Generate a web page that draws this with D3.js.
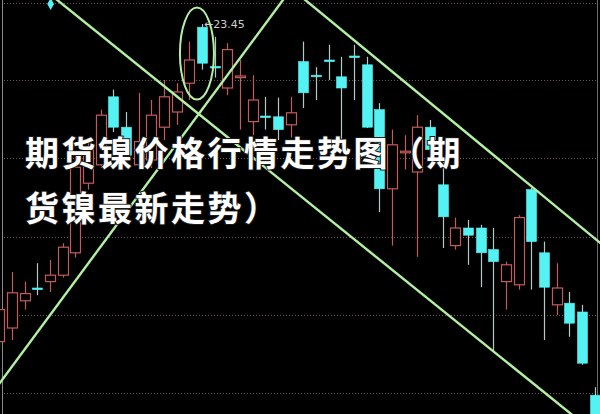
<!DOCTYPE html>
<html><head><meta charset="utf-8">
<script src="https://cdn.jsdelivr.net/npm/d3@7"></script>
<style>html,body{margin:0;padding:0;background:#000;}svg{display:block;}</style>
</head><body>
<script>
// candle data (index order), price values
const opens  = [19.48,19.65,19.99,20.15,20.23,20.31,20.59,21.46,21.69,22.54,22.16,21.69,21.75,22.16,22.35,22.71,23.41,22.92,22.65,22.78,22.23,22.30,22.29,22.19,22.98,22.81,23.00,22.79,23.05,22.94,22.38,21.39,21.84,21.60,22.16,21.44,20.68,20.90,20.90,20.63,20.23,20.19,21.38,20.59,19.94,19.96,19.85,18.81];
const highs  = [20.06,20.35,20.23,20.46,20.50,20.71,21.81,22.00,22.38,22.63,22.35,22.59,22.50,22.75,22.71,23.23,23.45,23.29,23.21,23.00,22.81,22.54,22.53,22.54,23.23,22.91,23.19,23.04,23.19,23.04,22.46,22.13,22.06,22.31,22.25,21.75,21.03,21.00,20.94,20.90,20.48,21.06,21.40,20.73,20.46,20.10,19.94,18.91];
const lows   = [19.38,19.50,19.88,20.06,20.10,20.28,20.53,21.38,21.65,22.10,21.69,21.63,21.65,22.00,22.19,22.50,22.88,22.78,22.56,22.13,22.06,22.13,22.00,22.03,22.40,22.50,22.75,21.94,22.50,22.15,21.10,20.68,21.63,20.54,21.75,20.65,20.63,20.44,20.16,19.35,19.88,20.13,20.13,19.50,19.81,19.54,19.19,18.45];
const closes = [19.88,20.09,20.08,20.13,20.31,20.66,21.66,21.88,22.31,22.16,21.81,21.98,22.31,22.54,22.60,23.00,22.96,22.90,23.13,22.80,22.50,22.28,22.13,22.34,22.59,22.79,22.98,22.65,23.03,22.16,21.39,21.94,21.86,22.16,21.88,21.04,20.90,20.81,20.59,20.48,20.44,21.03,20.73,20.16,20.15,19.71,19.21,18.50];
const gridLevels = [23.71, 22.75, 21.78, 20.79, 19.81, 18.84];
// trend lines: [index0, price0, index1, price1]
const trendLines = [[3, 23.95, 48, 18.21], [-1, 18.74, 23, 23.88], [23, 23.90, 48, 20.64]];
const highLabel = "23.45";
const titleLines = ["期货镍价格行情走势图（期", "货镍最新走势）"];

const W = 600, H = 414;
const svg = d3.select("body").append("svg").attr("width", W).attr("height", H)
  .style("background", "#000");

const x = d3.scaleLinear().domain([0, 47]).range([-0.67, 594.7]);
const y = d3.scaleLinear().domain([18.575, 23.75]).range([H, 0]);
const bw = 10;

// grid
svg.selectAll("line.grid").data(gridLevels).enter().append("line")
  .attr("x1", 4).attr("x2", 596)
  .attr("y1", d => Math.round(y(d)) + 0.5).attr("y2", d => Math.round(y(d)) + 0.5)
  .attr("stroke", "#6e5656").attr("stroke-width", 1).attr("stroke-dasharray", "1,2");

// borders
svg.append("line").attr("x1", 2.5).attr("x2", 2.5).attr("y1", 0).attr("y2", H).attr("stroke", "#8a8a8a").attr("stroke-width", 1);
svg.append("line").attr("x1", 597.5).attr("x2", 597.5).attr("y1", 0).attr("y2", H).attr("stroke", "#6a6a6a").attr("stroke-width", 1);

const RED = "#c25c5c", CYAN = "#54f2f2", DW = "#b4c8c8";
const data = opens.map((o, i) => ({i, o, h: highs[i], l: lows[i], c: closes[i]}));

const g = svg.append("g");
const cg = g.selectAll("g.c").data(data).enter().append("g");
cg.append("line")
  .attr("x1", d => Math.round(x(d.i)) + 0.5).attr("x2", d => Math.round(x(d.i)) + 0.5)
  .attr("y1", d => y(d.h)).attr("y2", d => y(d.l))
  .attr("stroke", d => d.c >= d.o ? RED : DW).attr("stroke-width", 1.2);
cg.append("rect")
  .attr("x", d => Math.round(x(d.i)) - bw / 2 + 0.5)
  .attr("width", bw)
  .attr("y", d => y(Math.max(d.o, d.c)))
  .attr("height", d => Math.max(1.5, Math.abs(y(d.o) - y(d.c))))
  .attr("fill", d => d.c >= d.o ? "#000" : CYAN)
  .attr("stroke", d => d.c >= d.o ? RED : CYAN)
  .attr("stroke-width", d => d.c >= d.o ? 1.2 : 0.6);

// trend lines
svg.selectAll("line.trend").data(trendLines).enter().append("line")
  .attr("x1", d => x(d[0])).attr("y1", d => y(d[1]))
  .attr("x2", d => x(d[2])).attr("y2", d => y(d[3]))
  .attr("stroke", "#b4f0a4").attr("stroke-width", 2.4);

// highlight ellipse around the top
svg.append("ellipse").attr("cx", x(15.6)).attr("cy", y(23.08)).attr("rx", 17).attr("ry", 46)
  .attr("fill", "none").attr("stroke", "#b4f0a4").attr("stroke-width", 2);

// high marker
const hi = d3.maxIndex(highs);
svg.append("text").attr("x", x(hi) + 2).attr("y", y(highs[hi]) + 4)
  .attr("fill", "#cfcfcf").attr("font-family", "DejaVu Sans, sans-serif").attr("font-size", 11)
  .text("←" + highLabel);

// small diamond marker
svg.append("path").attr("d", d3.symbol(d3.symbolDiamond, 40)())
  .attr("transform", `translate(${x(4.05)},${y(23.70)})`).attr("fill", CYAN);

// title overlay
svg.selectAll("text.title").data(titleLines).enter().append("text")
  .attr("x", 25).attr("y", (d, i) => 166 + i * 55)
  .attr("fill", "#ffffff")
  .attr("stroke", "#1a1a1a").attr("stroke-width", 2).attr("paint-order", "stroke")
  .attr("font-family", "'Noto Sans CJK SC', sans-serif").attr("font-weight", "bold")
  .attr("font-size", 34).attr("letter-spacing", 2.5)
  .text(d => d);
</script>
</body></html>
